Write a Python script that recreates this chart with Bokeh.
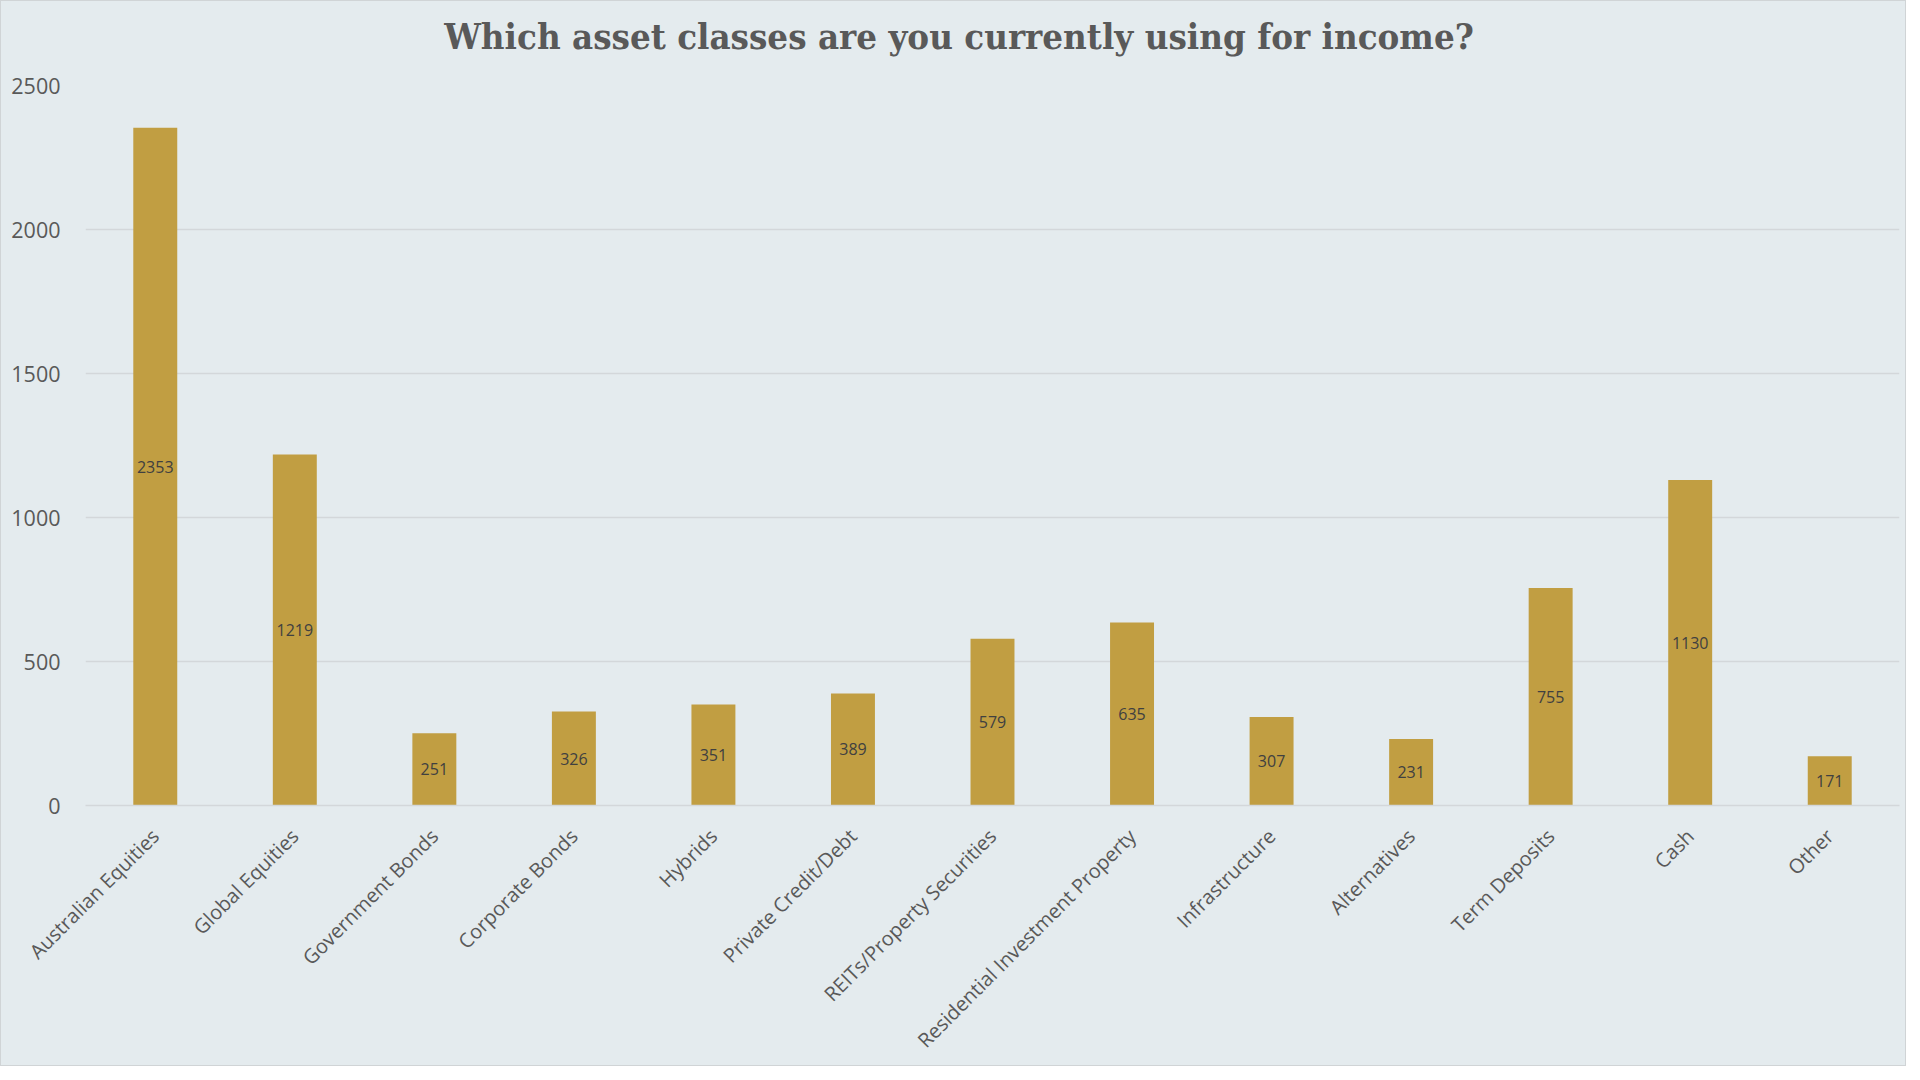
from math import pi
from bokeh.plotting import figure
from bokeh.layouts import column
from bokeh.models import ColumnDataSource, FactorRange, Range1d, SingleIntervalTicker, LabelSet, Div
from bokeh.core.properties import value
from bokeh.embed import file_html
from bokeh.resources import INLINE

title_text = "Which asset classes are you currently using for income?"
categories = ["Australian Equities", "Global Equities", "Government Bonds", "Corporate Bonds",
              "Hybrids", "Private Credit/Debt", "REITs/Property Securities",
              "Residential Investment Property", "Infrastructure", "Alternatives",
              "Term Deposits", "Cash", "Other"]
counts = [2353, 1219, 251, 326, 351, 389, 579, 635, 307, 231, 755, 1130, 171]

BG = "#E4EBEE"
BAR = "#C19E42"
GRID = "#D3D7DA"

src = ColumnDataSource(dict(cat=categories, val=counts,
                            mid=[v / 2 for v in counts],
                            lab=[str(v) for v in counts]))

head = Div(text='<div style="padding-top:14px;padding-left:12px;line-height:44px;">'
                + title_text + '</div>',
           width=1904, height=58, margin=(0, 0, 0, 0),
           styles={"background-color": BG, "text-align": "center", "width": "1904px",
                   "font-family": "'DejaVu Serif Condensed', serif",
                   "font-weight": "bold", "font-size": "36.3px", "color": "#595959"})

p = figure(width=1904, height=1006, output_backend="svg", toolbar_location=None,
           x_range=FactorRange(*categories, range_padding=0),
           y_range=Range1d(0, 2500), margin=(0, 0, 0, 0),
           min_border_left=84, min_border_right=6, min_border_top=26, min_border_bottom=257)

p.background_fill_color = BG
p.border_fill_color = BG
p.outline_line_color = None

p.vbar(x="cat", top="val", width=0.315, source=src, fill_color=BAR, line_color=None)

labels = LabelSet(x="cat", y="mid", text="lab", source=src, text_align="center",
                  text_baseline="middle", text_font=value("Open Sans"),
                  text_font_size=value("16px"), text_color=value("#404040"))
p.add_layout(labels)

p.yaxis.ticker = SingleIntervalTicker(interval=500)
p.yaxis.axis_line_color = None
p.yaxis.major_tick_line_color = None
p.yaxis.minor_tick_line_color = None
p.yaxis.major_label_text_font = "Open Sans"
p.yaxis.major_label_text_font_size = "21.5px"
p.yaxis.major_label_text_color = "#595959"
p.yaxis.major_label_standoff = 19

p.xaxis.axis_line_color = GRID
p.xaxis.axis_line_width = 1.5
p.xaxis.major_tick_line_color = None
p.xaxis.minor_tick_line_color = None
p.xaxis.major_label_orientation = pi / 4
p.xaxis.major_label_text_font = "Open Sans"
p.xaxis.major_label_text_font_size = "20px"
p.xaxis.major_label_text_color = "#595959"
p.xaxis.major_label_standoff = 21

p.xgrid.grid_line_color = None
p.ygrid.grid_line_color = GRID
p.ygrid.grid_line_width = 1.5

page = column(head, p, spacing=0, styles={"border": "1px solid #D0D4D6", "background-color": BG})

open("out.html", "w").write(file_html(page, INLINE))
